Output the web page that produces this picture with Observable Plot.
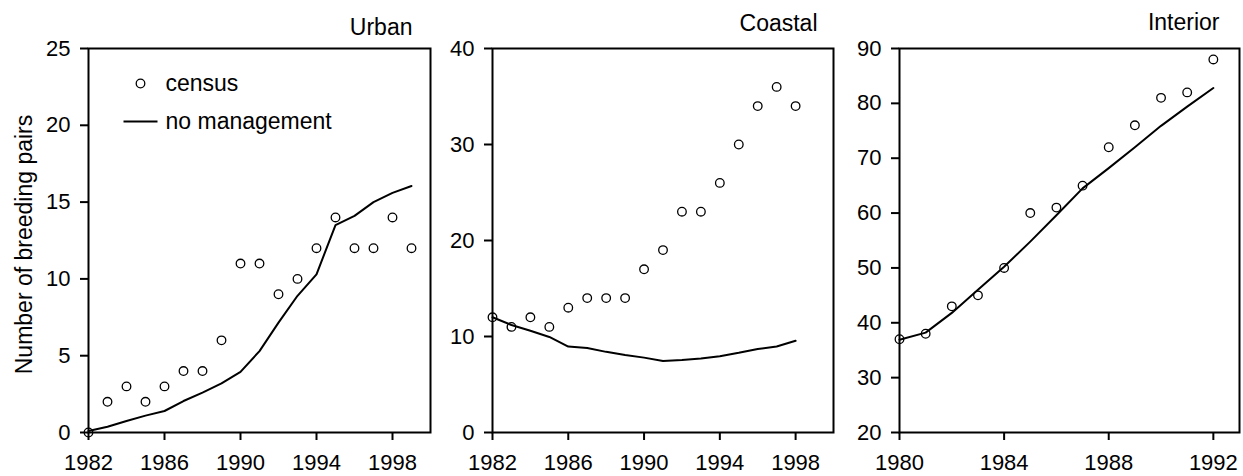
<!DOCTYPE html>
<html>
<head>
<meta charset="utf-8">
<script src="https://cdn.jsdelivr.net/npm/d3@7"></script>
<script src="https://cdn.jsdelivr.net/npm/@observablehq/plot@0.6"></script>
<style>
  html, body { margin: 0; padding: 0; background: white; }
  #chart { position: relative; width: 1243px; height: 476px; overflow: hidden; background: white; }
  #chart > svg { position: absolute; top: 0; }
</style>
</head>
<body>
<div id="chart"></div>
<script>
// ---------- data ----------
const urbanYears   = [1982,1983,1984,1985,1986,1987,1988,1989,1990,1991,1992,1993,1994,1995,1996,1997,1998,1999];
const urbanCensus  = [0,2,3,2,3,4,4,6,11,11,9,10,12,14,12,12,14,12];
const urbanModel   = [0.1,0.37,0.75,1.1,1.4,2.05,2.6,3.2,3.95,5.3,7.15,8.9,10.3,13.5,14.1,15.0,15.6,16.05];

const coastalYears  = [1982,1983,1984,1985,1986,1987,1988,1989,1990,1991,1992,1993,1994,1995,1996,1997,1998];
const coastalCensus = [12,11,12,11,13,14,14,14,17,19,23,23,26,30,34,36,34];
const coastalModel  = [12.0,11.2,10.6,9.95,8.95,8.8,8.4,8.07,7.8,7.45,7.55,7.7,7.95,8.3,8.7,8.95,9.55];

const interiorYears  = [1980,1981,1982,1983,1984,1985,1986,1987,1988,1989,1990,1991,1992];
const interiorCensus = [37,38,43,45,50,60,61,65,72,76,81,82,88];
const interiorModel  = [36.9,38.2,41.8,46.0,50.2,54.8,59.6,64.5,68.2,72.0,75.9,79.4,82.8];

const urbanXTicks    = [1982,1986,1990,1994,1998];
const coastalXTicks  = [1982,1986,1990,1994,1998];
const interiorXTicks = [1980,1984,1988,1992];
const urbanYTicks    = [0,5,10,15,20,25];
const coastalYTicks  = [0,10,20,30,40];
const interiorYTicks = [20,30,40,50,60,70,80,90];

const panelTitles = ["Urban","Coastal","Interior"];
const legendLabels = ["census","no management"];
const yAxisLabel = "Number of breeding pairs";

// ---------- drawing ----------
const FONT = "'Liberation Sans', Arial, Helvetica, sans-serif";
const FS_TICK = 22;
const FS_TEXT = 23;
const lineSymbol = { draw(ctx) { ctx.moveTo(-17, 0); ctx.lineTo(17, 0); } };

function panel(o) {
  const censusData = o.years.map((yr, i) => ({year: yr, value: o.census[i]}));
  const modelData  = o.years.map((yr, i) => ({year: yr, value: o.model[i]}));
  const marks = [
    Plot.frame({stroke: "black", strokeWidth: 2}),
    Plot.axisX({ticks: o.xTicks, tickFormat: d => String(d), tickSize: 8, tickPadding: 14,
                strokeWidth: 2, label: null, fontSize: FS_TICK}),
    Plot.axisY({ticks: o.yTicks, tickFormat: d => String(d), tickSize: 8, tickPadding: 10,
                strokeWidth: 2, fontSize: FS_TICK, label: null}),
    Plot.line(modelData, {x: "year", y: "value", stroke: "black", strokeWidth: 2}),
    Plot.dot(censusData, {x: "year", y: "value", r: 4.3, stroke: "black", strokeWidth: 1.3, fill: "none"}),
    Plot.text([o.title], {text: d => d, frameAnchor: "top-right", dx: o.titleDx, dy: o.titleDy,
                          textAnchor: "end", lineAnchor: "middle", fontSize: FS_TEXT, fill: "black"})
  ];
  if (o.yLabel) {
    marks.push(Plot.text([o.yLabel], {text: d => d, frameAnchor: "left", dx: -64, dy: 4, rotate: -90,
                                       textAnchor: "middle", lineAnchor: "middle", fontSize: FS_TEXT, fill: "black"}));
  }
  if (o.legend) {
    marks.push(
      Plot.dot([legendLabels[0]], {frameAnchor: "top-left", dx: 52, dy: 35, r: 4.3, stroke: "black", strokeWidth: 1.3, fill: "none"}),
      Plot.text([legendLabels[0]], {text: d => d, frameAnchor: "top-left", dx: 77, dy: 35, textAnchor: "start", lineAnchor: "middle", fontSize: FS_TEXT, fill: "black"}),
      Plot.dot([legendLabels[1]], {frameAnchor: "top-left", dx: 52, dy: 73, symbol: lineSymbol, r: 5, stroke: "black", strokeWidth: 2, fill: "none"}),
      Plot.text([legendLabels[1]], {text: d => d, frameAnchor: "top-left", dx: 77, dy: 73, textAnchor: "start", lineAnchor: "middle", fontSize: FS_TEXT, fill: "black"})
    );
  }
  const svg = Plot.plot({
    width: o.width, height: 476,
    marginLeft: o.ml, marginRight: o.mr, marginTop: 48, marginBottom: 44,
    style: {fontFamily: FONT, fontSize: FS_TICK + "px", color: "black", background: "white", overflow: "visible"},
    x: {domain: o.xDomain, label: null},
    y: {domain: o.yDomain, label: null},
    marks
  });
  svg.style.left = o.left + "px";
  return svg;
}

const chart = document.getElementById("chart");
chart.appendChild(panel({
  years: urbanYears, census: urbanCensus, model: urbanModel,
  xDomain: [1982, 2000], yDomain: [0, 25], xTicks: urbanXTicks, yTicks: urbanYTicks,
  title: panelTitles[0], titleDx: -18, titleDy: -21,
  width: 440, left: 0, ml: 88, mr: 10, yLabel: yAxisLabel, legend: true
}));
chart.appendChild(panel({
  years: coastalYears, census: coastalCensus, model: coastalModel,
  xDomain: [1982, 2000], yDomain: [0, 40], xTicks: coastalXTicks, yTicks: coastalYTicks,
  title: panelTitles[1], titleDx: -16, titleDy: -25,
  width: 400, left: 440, ml: 52, mr: 7
}));
chart.appendChild(panel({
  years: interiorYears, census: interiorCensus, model: interiorModel,
  xDomain: [1980, 1993], yDomain: [20, 90], xTicks: interiorXTicks, yTicks: interiorYTicks,
  title: panelTitles[2], titleDx: -20, titleDy: -26,
  width: 403, left: 840, ml: 59, mr: 4
}));
</script>
</body>
</html>
